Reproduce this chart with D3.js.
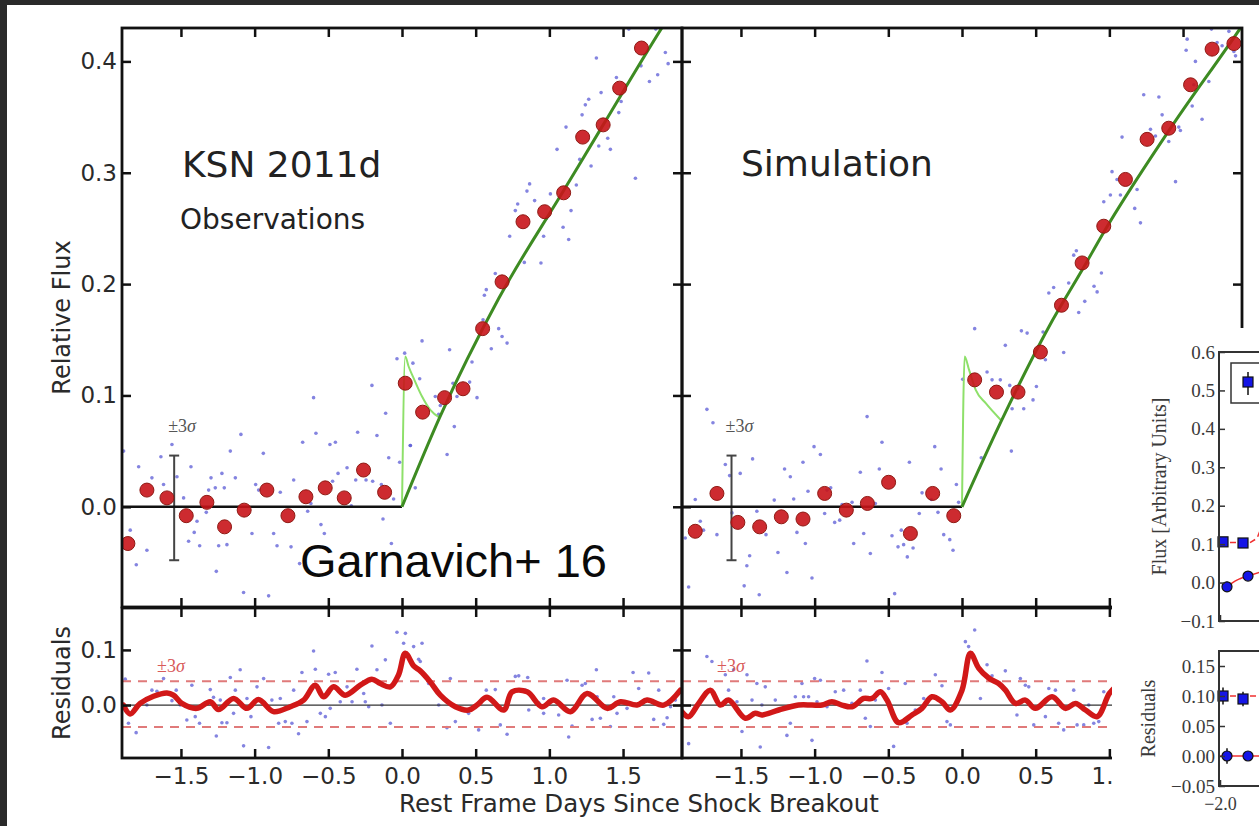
<!DOCTYPE html>
<html>
<head>
<meta charset="utf-8">
<script src="https://cdn.jsdelivr.net/npm/d3@7"></script>
<style>
  body { margin: 0; background: #2a2a2a; }
  svg { display: block; }
</style>
</head>
<body>
<svg id="chart" width="1259" height="826"></svg>
<script>
// ---- data (days since breakout, relative flux) ----
const xTicks = [-1.5, -1, -0.5, 0, 0.5, 1, 1.5];
const fluxTicks = [0, 0.1, 0.2, 0.3, 0.4];
const residTicks = [0, 0.1];
const sigmaLevels = [0.043, -0.040];

// binned points (red)
const obsBinned = [[-1.860,-0.033],[-1.731,0.015],[-1.595,0.008],[-1.464,-0.008],[-1.324,0.004],[-1.204,-0.018],[-1.071,-0.003],[-0.917,0.015],[-0.774,-0.008],[-0.652,0.009],[-0.521,0.017],[-0.392,0.008],[-0.261,0.033],[-0.118,0.013],[0.022,0.111],[0.140,0.085],[0.289,0.098],[0.414,0.106],[0.547,0.160],[0.679,0.202],[0.821,0.256],[0.968,0.265],[1.097,0.282],[1.226,0.332],[1.365,0.343],[1.477,0.376],[1.625,0.412]];
const simBinned = [[-1.810,-0.022],[-1.663,0.012],[-1.521,-0.014],[-1.373,-0.018],[-1.226,-0.009],[-1.079,-0.011],[-0.932,0.012],[-0.785,-0.003],[-0.642,0.003],[-0.498,0.022],[-0.350,-0.024],[-0.199,0.012],[-0.056,-0.008],[0.086,0.114],[0.234,0.103],[0.380,0.103],[0.532,0.139],[0.675,0.181],[0.815,0.219],[0.962,0.252],[1.109,0.294],[1.256,0.330],[1.403,0.340],[1.551,0.379],[1.697,0.411],[1.845,0.416]];

// rise fits (dark green) and shock-cooling bumps (light green)
const obsFit = [[-1.9,0],[0,0],[0.255,0.080],[0.656,0.187],[1.097,0.284],[1.365,0.343],[1.765,0.4305],[1.82,0.442]];
const simFit = [[-1.9,0],[0,0],[0.263,0.076],[0.591,0.162],[0.817,0.213],[0.964,0.247],[1.405,0.338],[1.892,0.4305],[1.93,0.438]];
const obsShock = [[0,0],[0.022,0.135],[0.045,0.126],[0.079,0.1155],[0.136,0.099],[0.192,0.087],[0.255,0.080]];
const simShock = [[0,0],[0.018,0.135],[0.048,0.123],[0.093,0.105],[0.161,0.093],[0.263,0.078]];

// +-3 sigma bars in the flux panels: [day, low, high]
const obsSigmaBar = [-1.546, -0.048, 0.046];
const simSigmaBar = [-1.564, -0.048, 0.046];

// individual measurements (small blue)
const obsPoints = [[-1.889,0.050],[-1.787,0.036],[-1.844,-0.021],[-1.803,-0.052],[-1.731,-0.039],[-1.697,0.026],[-1.636,0.045],[-1.618,0.020],[-1.561,0.056],[-1.527,0.027],[-1.482,0.008],[-1.432,0.036],[-1.391,-0.013],[-1.448,-0.031],[-1.410,-0.023],[-1.373,-0.035],[-1.328,-0.005],[-1.296,0.026],[-1.312,0.015],[-1.267,0.017],[-1.260,-0.058],[-1.244,-0.035],[-1.222,0.030],[-1.206,0.017],[-1.188,-0.034],[-1.165,0.050],[-1.131,0.026],[-1.093,0.065],[-1.075,-0.077],[-1.018,-0.024],[-0.993,0.020],[-0.941,0.048],[-0.973,0.015],[-0.905,-0.080],[-0.871,-0.024],[-0.848,-0.035],[-0.826,0.013],[-0.753,-0.036],[-0.735,0.024],[-0.674,0.058],[-0.695,-0.051],[-0.640,-0.004],[-0.618,0.003],[-0.600,0.098],[-0.584,0.066],[-0.550,-0.016],[-0.527,-0.024],[-0.489,0.056],[-0.471,0.023],[-0.452,0.058],[-0.434,0.030],[-0.373,0.035],[-0.344,0.001],[-0.314,0.024],[-0.301,0.067],[-0.244,0.024],[-0.204,0.109],[-0.199,0.023],[-0.170,0.064],[-0.140,0.020],[-0.129,-0.011],[-0.111,0.084],[-0.090,0.044],[-0.072,-0.033],[-0.057,0.007],[-0.016,0.040],[0.057,0.055],[0.090,0.017],[-0.034,0.133],[0.018,0.138],[0.074,0.129],[0.120,0.115],[0.136,0.149],[0.056,0.055],[0.226,0.099],[0.260,0.091],[0.249,0.083],[0.323,0.141],[0.346,0.111],[0.373,0.099],[0.355,0.072],[0.306,0.047],[0.459,0.112],[0.509,0.098],[0.475,0.130],[0.606,0.142],[0.656,0.160],[0.679,0.153],[0.713,0.147],[0.550,0.168],[0.572,0.195],[0.559,0.190],[0.633,0.2095],[0.731,0.243],[0.769,0.266],[0.785,0.272],[0.830,0.2195],[0.848,0.2835],[0.866,0.290],[0.900,0.275],[0.943,0.219],[0.961,0.243],[0.980,0.259],[1.007,0.281],[1.052,0.321],[1.093,0.251],[1.131,0.240],[1.147,0.266],[1.183,0.289],[1.206,0.312],[1.222,0.352],[1.244,0.361],[1.267,0.366],[1.283,0.306],[1.113,0.341],[1.319,0.403],[1.335,0.324],[1.351,0.372],[1.396,0.331],[1.414,0.321],[1.455,0.3855],[1.471,0.354],[1.487,0.364],[1.584,0.295],[1.622,0.396],[1.679,0.382],[1.735,0.388],[1.787,0.408],[1.806,0.398],[1.539,0.429],[1.722,0.429]];
const simPoints = [[-1.731,0.0875],[-1.690,0.0755],[-1.855,-0.072],[-1.810,0.0065],[-1.776,-0.013],[-1.754,-0.021],[-1.878,-0.028],[-1.663,-0.025],[-1.606,0.038],[-1.577,0.028],[-1.505,0.030],[-1.561,-0.0055],[-1.478,-0.071],[-1.460,-0.053],[-1.441,-0.044],[-1.421,0.043],[-1.376,-0.079],[-1.392,-0.004],[-1.330,-0.025],[-1.274,0.006],[-1.249,-0.041],[-1.204,0.034],[-1.188,-0.059],[-1.165,0.027],[-1.142,0.007],[-1.120,-0.023],[-1.079,0.040],[-1.063,-0.033],[-1.018,-0.064],[-1.045,0.014],[-1.004,0.054],[-0.961,0.047],[-0.932,-0.006],[-0.916,0.015],[-0.891,0.017],[-0.864,-0.014],[-0.830,-0.012],[-0.814,0.002],[-0.746,0.004],[-0.735,-0.033],[-0.690,0.031],[-0.667,-0.024],[-0.644,0.081],[-0.622,-0.042],[-0.588,0.003],[-0.561,0.034],[-0.543,0.058],[-0.475,-0.026],[-0.457,-0.078],[-0.434,-0.036],[-0.412,-0.021],[-0.396,-0.034],[-0.371,-0.045],[-0.357,0.040],[-0.332,-0.037],[-0.290,-0.006],[-0.271,0.0125],[-0.208,0.0065],[-0.185,0.054],[-0.163,-0.005],[-0.142,0.034],[-0.124,-0.025],[-0.083,-0.0295],[-0.061,-0.039],[-0.038,0.020],[-0.023,0.004],[0.005,0.1145],[0.086,0.160],[0.170,0.121],[0.204,0.114],[0.260,0.114],[0.294,0.145],[0.324,0.109],[0.340,0.088],[0.403,0.158],[0.442,0.156],[0.380,0.106],[0.419,0.088],[0.482,0.096],[0.505,0.108],[0.550,0.157],[0.566,0.132],[0.690,0.1385],[0.792,0.1745],[0.833,0.1845],[0.131,0.044],[0.335,0.050],[0.589,0.192],[0.622,0.197],[0.724,0.201],[0.758,0.226],[0.776,0.230],[0.896,0.198],[0.917,0.193],[0.946,0.210],[0.962,0.274],[1.007,0.280],[1.018,0.301],[1.052,0.294],[1.075,0.280],[1.086,0.332],[1.172,0.268],[1.188,0.285],[1.211,0.255],[1.233,0.370],[1.279,0.339],[1.313,0.333],[1.336,0.368],[1.358,0.352],[1.403,0.328],[1.449,0.292],[1.471,0.341],[1.482,0.338],[1.521,0.410],[1.528,0.420],[1.562,0.360],[1.573,0.379],[1.584,0.400],[1.629,0.348],[1.675,0.382],[1.693,0.429],[1.731,0.417],[1.765,0.414],[1.811,0.427],[1.845,0.409],[1.856,0.405]];

// residuals: smoothed curve (red) and individual points (blue)
const obsResid = [[-1.890,0.000],[-1.845,-0.016],[-1.777,0.003],[-1.686,0.016],[-1.595,0.022],[-1.551,0.018],[-1.494,0.003],[-1.392,-0.006],[-1.301,0.006],[-1.245,-0.008],[-1.143,0.012],[-1.052,-0.006],[-0.974,0.010],[-0.872,-0.012],[-0.758,-0.003],[-0.668,0.009],[-0.589,0.036],[-0.532,0.015],[-0.464,0.033],[-0.385,0.018],[-0.283,0.036],[-0.204,0.047],[-0.147,0.039],[-0.079,0.033],[-0.023,0.055],[0.022,0.094],[0.079,0.071],[0.124,0.062],[0.192,0.042],[0.260,0.018],[0.362,-0.003],[0.452,-0.009],[0.509,0.000],[0.577,0.014],[0.690,-0.009],[0.747,0.024],[0.849,0.024],[0.950,-0.003],[1.029,0.009],[1.143,-0.012],[1.256,0.021],[1.392,-0.006],[1.482,0.006],[1.595,0.000],[1.663,0.009],[1.776,0.000],[1.889,0.027]];
const simResid = [[-1.901,-0.012],[-1.855,-0.021],[-1.787,0.003],[-1.708,0.027],[-1.640,0.000],[-1.584,0.009],[-1.470,-0.024],[-1.403,-0.015],[-1.358,-0.018],[-1.244,-0.009],[-1.109,0.000],[-1.018,0.000],[-0.950,0.000],[-0.883,0.006],[-0.815,0.000],[-0.747,-0.003],[-0.667,0.012],[-0.611,0.012],[-0.554,0.024],[-0.509,0.009],[-0.430,-0.032],[-0.339,-0.018],[-0.272,-0.006],[-0.204,0.015],[-0.136,0.006],[-0.079,-0.009],[0.000,0.027],[0.057,0.094],[0.113,0.067],[0.181,0.049],[0.249,0.039],[0.295,0.027],[0.363,0.003],[0.430,0.009],[0.498,-0.006],[0.611,0.015],[0.702,-0.006],[0.770,0.003],[0.838,-0.009],[0.917,-0.021],[1.000,0.021],[1.05,0.035]];
const obsResidPoints = [[-1.878,0.047],[-1.856,-0.033],[-1.804,-0.050],[-1.731,0.000],[-1.697,0.027],[-1.663,0.025],[-1.618,0.048],[-1.561,0.008],[-1.532,0.027],[-1.505,0.000],[-1.460,-0.027],[-1.426,0.036],[-1.403,-0.021],[-1.374,-0.033],[-1.301,0.028],[-1.279,0.014],[-1.260,-0.056],[-1.233,0.009],[-1.222,-0.032],[-1.188,-0.032],[-1.165,0.050],[-1.143,-0.015],[-1.131,0.027],[-1.098,0.064],[-1.075,-0.074],[-1.052,0.012],[-1.025,-0.021],[-0.984,0.033],[-0.939,0.048],[-0.905,-0.077],[-0.883,0.009],[-0.837,-0.033],[-0.826,0.012],[-0.792,-0.030],[-0.747,-0.033],[-0.735,0.027],[-0.702,-0.052],[-0.679,0.059],[-0.645,-0.030],[-0.600,0.098],[-0.588,0.065],[-0.554,-0.015],[-0.520,-0.021],[-0.498,0.056],[-0.487,-0.006],[-0.453,0.059],[-0.419,0.006],[-0.373,0.033],[-0.339,0.006],[-0.306,0.065],[-0.260,0.021],[-0.249,0.006],[-0.226,-0.003],[-0.204,0.107],[-0.170,0.064],[-0.136,0.000],[-0.113,0.082],[-0.079,-0.033],[-0.034,0.132],[0.011,0.112],[0.023,0.130],[0.079,0.106],[0.124,0.079],[0.136,0.112],[0.113,0.083],[0.181,0.039],[0.249,0.000],[0.305,-0.041],[0.328,0.048],[0.362,-0.030],[0.452,-0.015],[0.520,-0.045],[0.572,0.027],[0.633,0.028],[0.667,-0.036],[0.713,-0.053],[0.769,0.052],[0.792,0.053],[0.853,0.050],[0.837,0.027],[0.860,-0.009],[0.928,0.004],[0.961,0.012],[0.961,-0.015],[1.063,-0.018],[1.120,0.045],[1.131,-0.058],[1.154,-0.038],[1.222,0.036],[1.244,0.039],[1.290,-0.026],[1.319,0.064],[1.324,0.015],[1.346,-0.024],[1.414,-0.039],[1.437,0.015],[1.459,-0.015],[1.527,-0.006],[1.568,0.059],[1.606,0.030],[1.674,0.058],[1.708,-0.026],[1.742,0.027],[1.776,-0.035],[1.799,-0.023],[1.822,-0.003],[1.855,0.009]];
const simResidPoints = [[-1.855,-0.070],[-1.753,0.015],[-1.731,0.088],[-1.697,0.079],[-1.606,0.055],[-1.584,0.027],[-1.550,0.064],[-1.527,0.006],[-1.493,-0.048],[-1.459,0.055],[-1.425,0.009],[-1.392,0.039],[-1.369,-0.076],[-1.358,0.000],[-1.335,0.033],[-1.267,0.009],[-1.188,-0.055],[-1.165,-0.033],[-1.131,0.015],[-1.086,0.039],[-1.041,0.015],[-1.075,0.015],[-1.018,-0.064],[-1.000,0.048],[-0.984,0.006],[-0.961,0.045],[-0.916,-0.003],[-0.860,0.024],[-0.803,0.027],[-0.747,0.003],[-0.690,0.027],[-0.656,-0.024],[-0.645,0.080],[-0.622,-0.039],[-0.588,0.009],[-0.543,0.059],[-0.498,0.030],[-0.464,-0.075],[-0.385,0.039],[-0.373,-0.033],[-0.317,-0.009],[-0.260,0.012],[-0.203,0.015],[-0.181,0.055],[-0.136,0.035],[-0.102,-0.030],[-0.079,-0.036],[0.023,0.115],[0.045,0.106],[0.086,0.136],[0.125,0.012],[0.170,0.073],[0.204,0.053],[0.249,0.041],[0.294,0.062],[0.373,-0.018],[0.396,0.048],[0.430,0.036],[0.453,0.033],[0.487,-0.036],[0.566,-0.021],[0.589,0.030],[0.634,0.027],[0.656,-0.033],[0.690,-0.045],[0.758,0.027],[0.781,-0.036],[0.826,-0.036],[0.860,0.000],[0.894,-0.033],[0.928,-0.030],[0.962,0.024]];

// inset (second figure, partly visible on the right)
const insetFluxTicks = [-0.1, 0, 0.1, 0.2, 0.3, 0.4, 0.5, 0.6];
const insetResidTicks = [-0.05, 0, 0.05, 0.10, 0.15];
const insetSquares = [[-1.97, 0.106, 0.008], [-1.77, 0.103, 0.006]];
const insetCircles = [[-1.93, -0.011, 0.013], [-1.72, 0.017, 0.006]];
const insetSquareModel = [[-2.0, 0.104], [-1.70, 0.104], [-1.63, 0.115], [-1.60, 0.135]];
const insetCircleModel = [[-1.95, -0.018], [-1.90, -0.005], [-1.85, 0.004], [-1.80, 0.010], [-1.72, 0.017], [-1.60, 0.027]];
const insetResidSquares = [[-1.97, 0.100, 0.014], [-1.77, 0.095, 0.012]];
const insetResidCircles = [[-1.93, 0.0, 0.013], [-1.72, 0.0, 0.004]];

// ---- drawing ----
const W = 1259, H = 826;
const INSET_X = 1112, INSET_Y = 328;
const svg = d3.select("#chart");
const defs = svg.append("defs");

svg.append("rect").attr("x", 7).attr("y", 5).attr("width", W - 7).attr("height", H - 5).attr("fill", "#fff");

const xObs = d3.scaleLinear().domain([-1.9, 1.9]).range([122, 682]);
const xSim = d3.scaleLinear().domain([-1.9, 1.9]).range([682, 1242]);
const yFlux = d3.scaleLinear().domain([-0.09, 0.43]).range([607, 28]);
const yRes = d3.scaleLinear().domain([-0.096, 0.176]).range([758, 608]);

const f1 = d3.format(".1f");
const f2 = d3.format(".2f");

function clipFor(id, x, y) {
  defs.append("clipPath").attr("id", id).append("rect")
    .attr("x", x.range()[0]).attr("y", y.range()[1])
    .attr("width", x.range()[1] - x.range()[0])
    .attr("height", y.range()[0] - y.range()[1]);
  return svg.append("g").attr("clip-path", `url(#${id})`);
}

function drawPoints(g, x, y, pts) {
  g.append("g").selectAll("circle").data(pts).join("circle")
    .attr("cx", d => x(d[0])).attr("cy", d => y(d[1]))
    .attr("r", 1.8).attr("fill", "#5b5bd6").attr("opacity", 0.75);
}

function sigmaLabel(g, x, y, color, size) {
  const t = g.append("text").attr("x", x).attr("y", y)
    .attr("font-family", "Liberation Serif").attr("font-size", size).attr("fill", color);
  t.append("tspan").text("±3");
  t.append("tspan").attr("font-style", "italic").text("σ");
}

function fluxPanel(id, x, binned, points, fit, shock, bar) {
  const g = clipFor(id, x, yFlux);
  drawPoints(g, x, yFlux, points);

  // sigma bar
  const bx = x(bar[0]);
  g.append("line").attr("x1", bx).attr("x2", bx).attr("y1", yFlux(bar[1])).attr("y2", yFlux(bar[2]))
    .attr("stroke", "#444").attr("stroke-width", 2);
  [bar[1], bar[2]].forEach(v => {
    g.append("line").attr("x1", bx - 5).attr("x2", bx + 5).attr("y1", yFlux(v)).attr("y2", yFlux(v))
      .attr("stroke", "#444").attr("stroke-width", 2);
  });
  sigmaLabel(g, bx - 6, yFlux(bar[2]) - 24, "#555", 18);

  const line = d3.line().x(d => x(d[0])).y(d => yFlux(d[1]));
  // flat pre-explosion baseline in black
  g.append("path").datum(fit.filter(d => d[0] <= 0))
    .attr("d", line).attr("fill", "none").attr("stroke", "#111").attr("stroke-width", 2.5);
  g.append("path").datum(shock)
    .attr("d", line.curve(d3.curveMonotoneX)).attr("fill", "none")
    .attr("stroke", "#8ee06a").attr("stroke-width", 2);
  g.append("path").datum(fit.filter(d => d[0] >= 0))
    .attr("d", line.curve(d3.curveMonotoneX)).attr("fill", "none")
    .attr("stroke", "#3d8b22").attr("stroke-width", 3);

  g.append("g").selectAll("circle").data(binned).join("circle")
    .attr("cx", d => x(d[0])).attr("cy", d => yFlux(d[1]))
    .attr("r", 7).attr("fill", "#c8141a").attr("fill-opacity", 0.9)
    .attr("stroke", "#8f1a14").attr("stroke-width", 1);
}

function residPanel(id, x, resid, points) {
  const g = clipFor(id, x, yRes);
  drawPoints(g, x, yRes, points);
  g.append("line").attr("x1", x.range()[0]).attr("x2", x.range()[1])
    .attr("y1", yRes(0)).attr("y2", yRes(0)).attr("stroke", "#333").attr("stroke-width", 1.3);
  sigmaLevels.forEach(v => {
    g.append("line").attr("x1", x.range()[0]).attr("x2", x.range()[1])
      .attr("y1", yRes(v)).attr("y2", yRes(v))
      .attr("stroke", "#e07a7a").attr("stroke-width", 2).attr("stroke-dasharray", "9,7");
  });
  g.append("path").datum(resid)
    .attr("d", d3.line().x(d => x(d[0])).y(d => yRes(d[1])).curve(d3.curveCatmullRom))
    .attr("fill", "none").attr("stroke", "#d11818").attr("stroke-width", 5.5)
    .attr("stroke-linejoin", "round").attr("stroke-linecap", "round");
  sigmaLabel(g, x.range()[0] + 35, yRes(sigmaLevels[0]) - 9, "#d85a5a", 18);
}

fluxPanel("cObs", xObs, obsBinned, obsPoints, obsFit, obsShock, obsSigmaBar);
fluxPanel("cSim", xSim, simBinned, simPoints, simFit, simShock, simSigmaBar);
residPanel("rObs", xObs, obsResid, obsResidPoints);
residPanel("rSim", xSim, simResid, simResidPoints);

// ---- axes ----
function styleAxis(g, size, family, color, width) {
  g.select(".domain").remove();
  g.attr("font-family", family).attr("font-size", size);
  g.selectAll(".tick line").attr("stroke", color).attr("stroke-width", width);
  g.selectAll(".tick text").attr("fill", "#2a2a2a");
}
const mainStyle = g => styleAxis(g, 23, "DejaVu Sans", "#111", 2.5);

function frame(x, y, yTicks, yLabels, xLabels) {
  const [x0, x1] = x.range(), [y1, y0] = y.range();
  // labels that would sit fully under the pasted inset are left out
  const xFmt = d => (xLabels && x(d) - 18 < INSET_X) ? f1(d) : "";
  svg.append("g").attr("transform", `translate(${x0},0)`)
    .call(d3.axisLeft(y).tickValues(yTicks).tickSize(-9).tickPadding(5).tickFormat(yLabels ? f1 : ""))
    .call(mainStyle);
  svg.append("g").attr("transform", `translate(${x1},0)`)
    .call(d3.axisRight(y).tickValues(yTicks).tickSize(-9).tickFormat(""))
    .call(mainStyle);
  svg.append("g").attr("transform", `translate(0,${y0})`)
    .call(d3.axisTop(x).tickValues(xTicks).tickSize(-9).tickFormat(""))
    .call(mainStyle);
  svg.append("g").attr("transform", `translate(0,${y1})`)
    .call(d3.axisBottom(x).tickValues(xTicks).tickSize(-9).tickPadding(10).tickFormat(xFmt))
    .call(mainStyle);
  svg.append("rect").attr("x", x0).attr("y", y0).attr("width", x1 - x0).attr("height", y1 - y0)
    .attr("fill", "none").attr("stroke", "#111").attr("stroke-width", 2.8);
}
frame(xObs, yFlux, fluxTicks, true, false);
frame(xSim, yFlux, fluxTicks, false, false);
frame(xObs, yRes, residTicks, true, true);
frame(xSim, yRes, residTicks, false, true);

// axis titles
svg.append("text").attr("transform", `translate(70,${(yFlux.range()[0] + yFlux.range()[1]) / 2}) rotate(-90)`)
  .attr("text-anchor", "middle").attr("font-family", "DejaVu Sans").attr("font-size", 24)
  .attr("fill", "#2a2a2a").text("Relative Flux");
svg.append("text").attr("transform", `translate(70,${(yRes.range()[0] + yRes.range()[1]) / 2}) rotate(-90)`)
  .attr("text-anchor", "middle").attr("font-family", "DejaVu Sans").attr("font-size", 24)
  .attr("fill", "#2a2a2a").text("Residuals");
svg.append("text").attr("x", 639).attr("y", 812).attr("text-anchor", "middle")
  .attr("font-family", "DejaVu Sans").attr("font-size", 24.5).attr("fill", "#2a2a2a")
  .text("Rest Frame Days Since Shock Breakout");

// panel annotations
const note = (x, y, size, txt, family = "DejaVu Sans", color = "#222") =>
  svg.append("text").attr("x", x).attr("y", y).attr("font-family", family)
    .attr("font-size", size).attr("fill", color).text(txt);
note(182, 177, 36, "KSN 2011d");
note(180, 229, 28, "Observations");
note(741, 176, 36, "Simulation");
note(300, 577, 47, "Garnavich+ 16", "Liberation Sans", "#0a0a0a");

// ---- inset figure pasted over the lower right ----
defs.append("clipPath").attr("id", "insetClip").append("rect")
  .attr("x", INSET_X).attr("y", INSET_Y).attr("width", W - INSET_X).attr("height", H - INSET_Y);
const inset = svg.append("g").attr("clip-path", "url(#insetClip)");
inset.append("rect").attr("x", INSET_X).attr("y", INSET_Y).attr("width", W - INSET_X).attr("height", H - INSET_Y).attr("fill", "#fff");

const xIn = d3.scaleLinear().domain([-2.0, -1.5]).range([1220, 1270]);
const yInF = d3.scaleLinear().domain([-0.1, 0.6]).range([621, 352]);
const yInR = d3.scaleLinear().domain([-0.05, 0.175]).range([786, 651]);
const inStyle = g => {
  styleAxis(g, 19, "Liberation Serif", "#333", 1.5);
  g.selectAll(".tick text").attr("fill", "#3a3a3a");
};

function insetPanel(y, ticks, fmt, squares, circles, sqModel, ciModel, xLabel) {
  const [y1, y0] = y.range();
  const g = inset.append("g");
  g.append("path").datum(sqModel)
    .attr("d", d3.line().x(d => xIn(d[0])).y(d => y(d[1])))
    .attr("fill", "none").attr("stroke", "#f03030").attr("stroke-width", 1.5).attr("stroke-dasharray", "6,4");
  g.append("path").datum(ciModel)
    .attr("d", d3.line().x(d => xIn(d[0])).y(d => y(d[1])).curve(d3.curveMonotoneX))
    .attr("fill", "none").attr("stroke", "#f03030").attr("stroke-width", 1.5);
  squares.concat(circles).forEach(d => {
    g.append("line").attr("x1", xIn(d[0])).attr("x2", xIn(d[0]))
      .attr("y1", y(d[1] - d[2])).attr("y2", y(d[1] + d[2]))
      .attr("stroke", "#111").attr("stroke-width", 1.5);
  });
  g.selectAll(null).data(squares).join("rect")
    .attr("x", d => xIn(d[0]) - 5).attr("y", d => y(d[1]) - 5).attr("width", 10).attr("height", 10)
    .attr("fill", "#1515e6").attr("stroke", "#111").attr("stroke-width", 1.2);
  g.selectAll(null).data(circles).join("circle")
    .attr("cx", d => xIn(d[0])).attr("cy", d => y(d[1])).attr("r", 5)
    .attr("fill", "#1515e6").attr("stroke", "#111").attr("stroke-width", 1.2);

  g.append("g").attr("transform", `translate(${xIn(-2.0) - 1},0)`)
    .call(d3.axisLeft(y).tickValues(ticks).tickSize(-6).tickPadding(4).tickFormat(fmt)).call(inStyle);
  g.append("g").attr("transform", `translate(0,${y1})`)
    .call(d3.axisBottom(xIn).tickValues([-2.0]).tickSize(-6).tickPadding(11).tickFormat(xLabel ? f1 : ""))
    .call(g => { inStyle(g); g.attr("font-size", 18); });
  g.append("rect").attr("x", xIn(-2.0) - 1).attr("y", y0).attr("width", 200).attr("height", y1 - y0)
    .attr("fill", "none").attr("stroke", "#333").attr("stroke-width", 2);
}
insetPanel(yInF, insetFluxTicks, f1, insetSquares, insetCircles, insetSquareModel, insetCircleModel, false);
insetPanel(yInR, insetResidTicks, f2, insetResidSquares, insetResidCircles,
  [[-2.0, 0.10], [-1.5, 0.10]], [[-2.0, 0.0], [-1.5, 0.0]], true);

// inset legend box
inset.append("rect").attr("x", 1231).attr("y", 363).attr("width", 80).attr("height", 40)
  .attr("fill", "#fff").attr("stroke", "#333").attr("stroke-width", 1.5);
inset.append("line").attr("x1", 1248).attr("x2", 1248).attr("y1", 372).attr("y2", 395)
  .attr("stroke", "#111").attr("stroke-width", 1.5);
inset.append("rect").attr("x", 1243).attr("y", 377).attr("width", 10).attr("height", 10)
  .attr("fill", "#1515e6").attr("stroke", "#111").attr("stroke-width", 1.2);

inset.append("text").attr("transform", `translate(1166,${(yInF.range()[0] + yInF.range()[1]) / 2}) rotate(-90)`)
  .attr("text-anchor", "middle").attr("font-family", "Liberation Serif").attr("font-size", 20)
  .attr("fill", "#3a3a3a").text("Flux [Arbitrary Units]");
inset.append("text").attr("transform", `translate(1155,${(yInR.range()[0] + yInR.range()[1]) / 2}) rotate(-90)`)
  .attr("text-anchor", "middle").attr("font-family", "Liberation Serif").attr("font-size", 20)
  .attr("fill", "#3a3a3a").text("Residuals");
</script>
</body>
</html>
